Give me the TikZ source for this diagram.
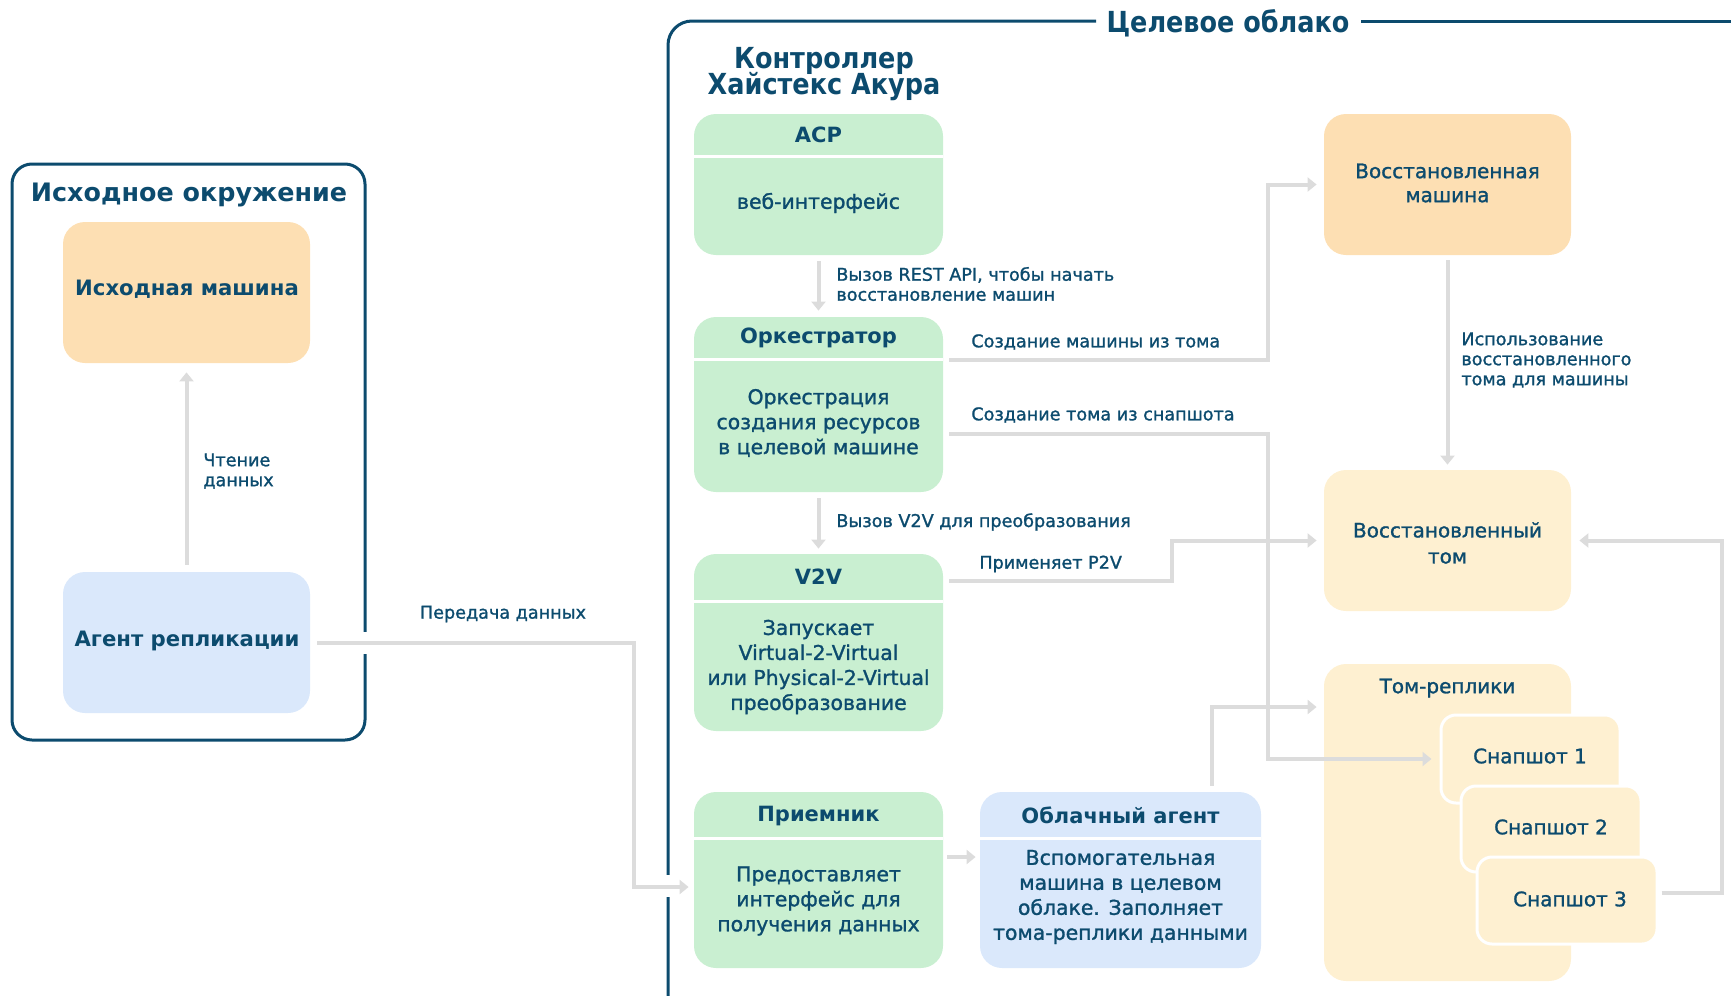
\documentclass[tikz,border=0pt]{standalone}
\usepackage{fontspec}
\setmainfont{DejaVu Sans}
\newfontface\medf{DejaVu Sans}[FakeBold=1.3]
\newfontfamily\condf{DejaVu Sans}[FakeStretch=0.88]
\usetikzlibrary{arrows.meta,fit,calc}
\definecolor{ink}{HTML}{0C4B6E}
\definecolor{grn}{HTML}{C9EFD1}
\definecolor{blu}{HTML}{DAE8FB}
\definecolor{org}{HTML}{FDDFB3}
\definecolor{ylw}{HTML}{FEF0D1}
\definecolor{arr}{HTML}{DCDCDC}
\tikzset{
  panel/.style={inner sep=0pt, rounded corners=11pt, fit={#1}, draw=none},
  snap/.style={inner sep=0pt, rounded corners=7.5pt, fit={#1}, fill=ylw, draw=white, line width=1.5pt},
  frame/.style={draw=ink, line width=1.5pt},
  conn/.style={draw=arr, line width=2pt, -{Triangle[length=4.5pt,width=7pt]}, shorten <=3pt, shorten >=3pt},
  hdr/.style={font=\bfseries\fontsize{10.5}{13}\selectfont, text=ink},
  bigt/.style={font=\bfseries\fontsize{10.6}{13.5}\selectfont, text=ink, align=center},
  midt/.style={font=\medf\fontsize{10}{12}\selectfont, text=ink, align=center},
  body/.style={font=\medf\fontsize{10.2}{12.5}\selectfont, text=ink, align=center},
  lbl/.style={font=\medf\fontsize{8.8}{10}\selectfont, text=ink, align=left, anchor=west, inner sep=0pt},
  ttl/.style={font={\condf\bfseries\fontsize{14.5}{13.3}\selectfont\lineskiplimit=-10pt}, text=ink, align=center},
  divl/.style={draw=white, line width=1.5pt}
}
\begin{document}
\begin{tikzpicture}[x=0.5pt,y=-0.5pt]
\useasboundingbox (0,0) rectangle (1731,996);

% ---------- source environment ----------
\node[frame, inner sep=0pt, rounded corners=10pt, fit={(12,164) (365,740)}] (envbox) {};
\draw[white, line width=3pt] (365,632) -- (365,654);
\node[font=\bfseries\fontsize{12.7}{15}\selectfont, text=ink] (envT) at (189,195) {Исходное окружение};
\node[panel={(63,222) (310,363)}, fill=org] (srcm) {};
\node[bigt] (srcmT) at (187,289) {Исходная машина};
\node[panel={(63,572) (310,713)}, fill=blu] (agent) {};
\node[bigt] (agentT) at (187,641) {Агент репликации};
\node[lbl] (readL) at (203,471) {Чтение\\данных};

% ---------- target cloud ----------
\draw[frame, rounded corners=12pt] (1096,21) -- (668,21) -- (668,1010);
\draw[frame] (1361,21) -- (1740,21);
\draw[white, line width=3pt] (668,875) -- (668,897);
\node[ttl] (cloudT) at (1228,23) {Целевое облако};
\node[ttl] (ctrlT) at (824,74) {Контроллер\\Хайстекс Акура};

% ACP
\node[panel={(694,114) (943,255)}, fill=grn] (acp) {};
\draw[divl] (694,156) -- (943,156);
\node[hdr] (acpH) at (818.5,135) {ACP};
\node[body] (acpB) at (818.5,203) {веб-интерфейс};

% Orchestrator
\node[panel={(694,317) (943,492)}, fill=grn] (orch) {};
\draw[divl] (694,359) -- (943,359);
\node[hdr] (orchH) at (818.5,338) {Оркестратор};
\node[body] (orchB) at (818.5,423) {Оркестрация\\создания ресурсов\\в целевой машине};

% V2V
\node[panel={(694,554) (943,731)}, fill=grn] (v2v) {};
\draw[divl] (694,601) -- (943,601);
\node[hdr] (v2vH) at (818.5,577) {V2V};
\node[body] (v2vB) at (818.5,667) {Запускает\\Virtual-2-Virtual\\или Physical-2-Virtual\\преобразование};

% Receiver
\node[panel={(694,792) (943,968)}, fill=grn] (recv) {};
\draw[divl] (694,838) -- (943,838);
\node[hdr] (recvH) at (818.5,816) {Приемник};
\node[body] (recvB) at (818.5,901) {Предоставляет\\интерфейс для\\получения данных};

% Cloud agent
\node[panel={(980,792) (1261,968)}, fill=blu] (ca) {};
\draw[divl] (980,838) -- (1261,838);
\node[hdr] (caH) at (1120.5,815) {Облачный агент};
\node[body] (caB) at (1120.5,897) {Вспомогательная\\машина в целевом\\облаке. Заполняет\\тома-реплики данными};

% right column
\node[panel={(1324,114) (1571,255)}, fill=org] (rm) {};
\node[midt] (rmT) at (1447.5,183) {Восстановленная\\машина};
\node[panel={(1324,470) (1571,611)}, fill=ylw] (rv) {};
\node[midt, font=\medf\fontsize{10}{13}\selectfont] (rvT) at (1447.5,543) {Восстановленный\\том};
\node[panel={(1324,664) (1571,981)}, fill=ylw] (rep) {};
\node[midt] (repT) at (1447.5,688) {Том-реплики};
\node[snap={(1441,715) (1620,803)}] (s1) {};
\node[midt] (s1T) at (1530,756) {Снапшот 1};
\node[snap={(1461,786) (1641,872)}] (s2) {};
\node[midt] (s2T) at (1551,827) {Снапшот 2};
\node[snap={(1477,857) (1657,944)}] (s3) {};
\node[midt] (s3T) at (1570,899) {Снапшот 3};

% ---------- connectors ----------
\draw[conn, shorten <=3.5pt, shorten >=4.5pt] (agent.north) -- (srcm.south);
\coordinate (b2) at (634,887);
\draw[conn, shorten <=3.5pt, shorten >=2.5pt] (agent.east) -| (b2) -- (b2 -| recv.west);
\node[lbl, anchor=center] (xferL) at (503,614) {Передача данных};

\draw[conn] (acp.south) -- (orch.north);
\node[lbl] (restL) at (836,284) {Вызов REST API, чтобы начать\\восстановление машин};
\draw[conn, shorten >=2.5pt] (orch.south) -- (v2v.north);
\node[lbl] (v2vL) at (836,522) {Вызов V2V для преобразования};

\coordinate (b3) at (1268,360);
\draw[conn, shorten >=3.5pt] (b3 -| orch.east) -- (b3) |- (rm.west);
\node[lbl] (c1L) at (971,342) {Создание машины из тома};
\coordinate (b4) at (1268,434);
\draw[conn, shorten >=4pt] (b4 -| orch.east) -- (b4) |- (s1.west);
\node[lbl] (c2L) at (971,415) {Создание тома из снапшота};

\coordinate (b5) at (1172,581);
\draw[conn, shorten >=3.5pt] (b5 -| v2v.east) -- (b5) |- (rv.west);
\node[lbl] (p2vL) at (979,564) {Применяет P2V};

\coordinate (b6) at (960,857);
\draw[conn, shorten <=2pt, shorten >=2pt] (b6 -| recv.east) -- (b6 -| ca.west);

\coordinate (b7) at (1212,707);
\draw[conn, shorten >=3.5pt] (b7 |- ca.north) -- (b7) -- (b7 -| rep.west);

\draw[conn, shorten <=2.5pt, shorten >=2.5pt] (rm.south) -- (rv.north);
\node[lbl] (useL) at (1461,360) {Использование\\восстановленного\\тома для машины};

\coordinate (b8) at (1722,893);
\draw[conn, shorten <=1.5pt, shorten >=4pt] (b8 -| s3.east) -- (b8) |- (rv.east);
\end{tikzpicture}
\end{document}
